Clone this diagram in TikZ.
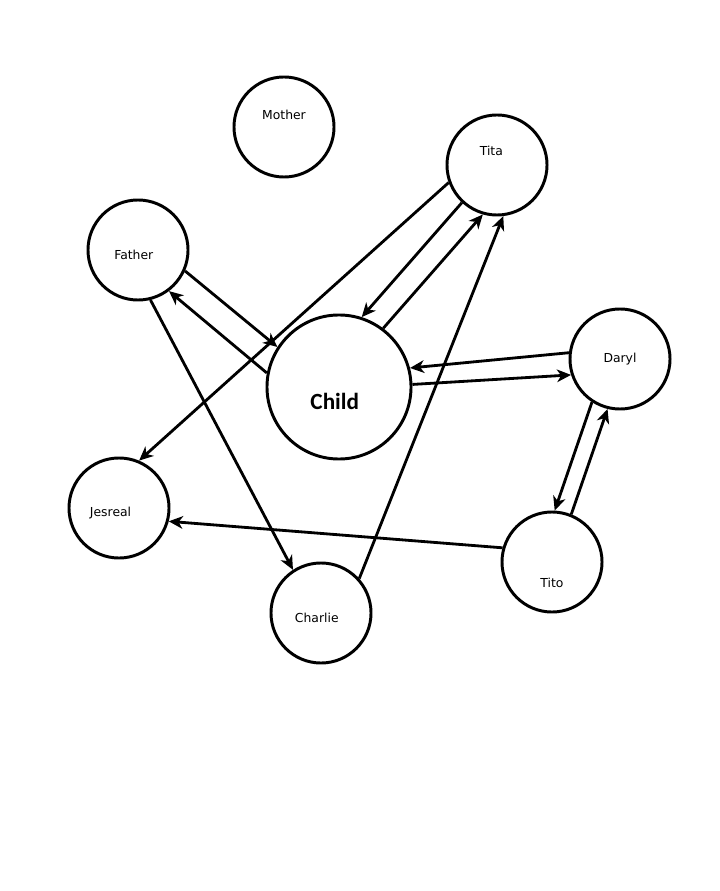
\documentclass[tikz,border=0pt]{standalone}
\usepackage{fontspec}
\setmainfont{DejaVu Sans}
\newfontfamily\childfont{Carlito}
\usetikzlibrary{arrows.meta}

\tikzset{
  person/.style={draw, circle, line width=2.1pt, minimum size=2.5cm, inner sep=0pt},
  tag/.style={font=\fontsize{8.8}{10}\selectfont},
  link/.style={line width=2pt, -{Stealth[length=10pt,width=9pt,inset=3pt]}}
}

\begin{document}
\begin{tikzpicture}[x=0.025cm,y=-0.025cm]
        \useasboundingbox (0,0) rectangle (720,891);

        % people
        \node[person, label={[tag,yshift=8.5pt]center:Mother}] (mother) at (284,127) {};
        \node[person, label={[tag,xshift=-4pt,yshift=10pt]center:Tita}] (tita) at (497,165) {};
        \node[person, label={[tag,xshift=-3pt,yshift=-3.5pt]center:Father}] (father) at (138,250) {};
        \node[person, minimum size=3.6cm,
              label={[font=\childfont\fontsize{16.5}{18}\selectfont\bfseries,xshift=-3pt,yshift=-10pt]center:Child}] (child) at (339,387) {};
        \node[person, label={[tag]center:Daryl}] (daryl) at (620,359) {};
        \node[person, label={[tag,xshift=-6pt,yshift=-3.5pt]center:Jesreal}] (jesreal) at (119,508) {};
        \node[person, label={[tag,yshift=-15pt]center:Tito}] (tito) at (552,562) {};
        \node[person, label={[tag,xshift=-3pt,yshift=-3.5pt]center:Charlie}] (charlie) at (321,613) {};

        % links
        \draw[link] (father.-24) -- (child.147);
        \draw[link] (child.169) -- (father.-53);
        \draw[link] (father.-76) -- (charlie.123);

        \draw[link] (tita.200) -- (jesreal.67);
        \draw[link] (tita.227) -- (child.72);
        \draw[link] (child.53) -- (tita.-106);
        \draw[link] (charlie.42) -- (tita.-83);

        \draw[link] (daryl.173) -- (child.15);
        \draw[link] (child.2) -- (daryl.198);
        \draw[link] (daryl.-123) -- (tito.87);
        \draw[link] (tito.68) -- (daryl.-104);

        \draw[link] (tito.164) -- (jesreal.-15);
\end{tikzpicture}
\end{document}
